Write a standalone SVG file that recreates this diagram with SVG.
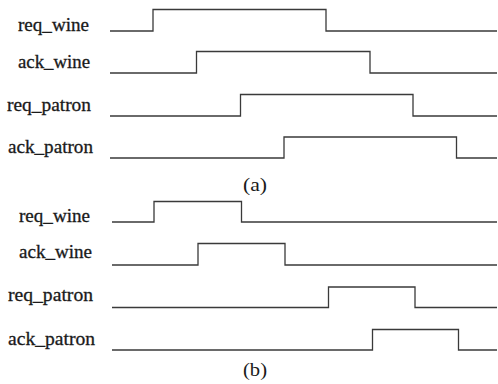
<svg xmlns="http://www.w3.org/2000/svg" width="498" height="384" viewBox="0 0 498 384">
<style>
.bg{fill:#ffffff}
.sig{fill:none;stroke:#3a3a3a;stroke-width:1.3}
.lbl{font-family:"Liberation Serif","Times New Roman",serif;font-size:18px;fill:#1a1a1a;stroke:#1a1a1a;stroke-width:0.3}
.cap{font-family:"Liberation Serif","Times New Roman",serif;font-size:19px;fill:#1a1a1a}
</style>
<rect class="bg" x="0" y="0" width="498" height="384"/>
<g id="panel-a">
  <g id="a-labels">
    <text class="lbl" x="18" y="31" textLength="71" lengthAdjust="spacingAndGlyphs">req_wine</text>
    <text class="lbl" x="18" y="68" textLength="72" lengthAdjust="spacingAndGlyphs">ack_wine</text>
    <text class="lbl" x="7" y="111" textLength="84" lengthAdjust="spacingAndGlyphs">req_patron</text>
    <text class="lbl" x="8" y="153" textLength="85" lengthAdjust="spacingAndGlyphs">ack_patron</text>
  </g>
  <g id="a-signals">
    <path id="a-req_wine" class="sig" d="M110,31 H153 V9.5 H326 V31 H497"/>
    <path id="a-ack_wine" class="sig" d="M110,73 H196.5 V51.5 H370 V73 H497"/>
    <path id="a-req_patron" class="sig" d="M110,116 H240.5 V94.5 H413 V116 H497"/>
    <path id="a-ack_patron" class="sig" d="M110,158 H284 V137 H456.5 V158 H497"/>
  </g>
  <text id="cap-a" class="cap" x="243" y="191" textLength="24" lengthAdjust="spacingAndGlyphs">(a)</text>
</g>
<g id="panel-b">
  <g id="b-labels">
    <text class="lbl" x="19" y="222" textLength="71" lengthAdjust="spacingAndGlyphs">req_wine</text>
    <text class="lbl" x="19" y="258" textLength="73" lengthAdjust="spacingAndGlyphs">ack_wine</text>
    <text class="lbl" x="8" y="301" textLength="85" lengthAdjust="spacingAndGlyphs">req_patron</text>
    <text class="lbl" x="8" y="345" textLength="87" lengthAdjust="spacingAndGlyphs">ack_patron</text>
  </g>
  <g id="b-signals">
    <path id="b-req_wine" class="sig" d="M112,222 H154 V201.5 H241.5 V222 H497"/>
    <path id="b-ack_wine" class="sig" d="M112,265 H198 V243.5 H285 V265 H497"/>
    <path id="b-req_patron" class="sig" d="M112,307.5 H328.5 V287 H415 V307.5 H497"/>
    <path id="b-ack_patron" class="sig" d="M112,350 H372.5 V329.5 H458.5 V350 H497"/>
  </g>
  <text id="cap-b" class="cap" x="243" y="376" textLength="24" lengthAdjust="spacingAndGlyphs">(b)</text>
</g>
</svg>
